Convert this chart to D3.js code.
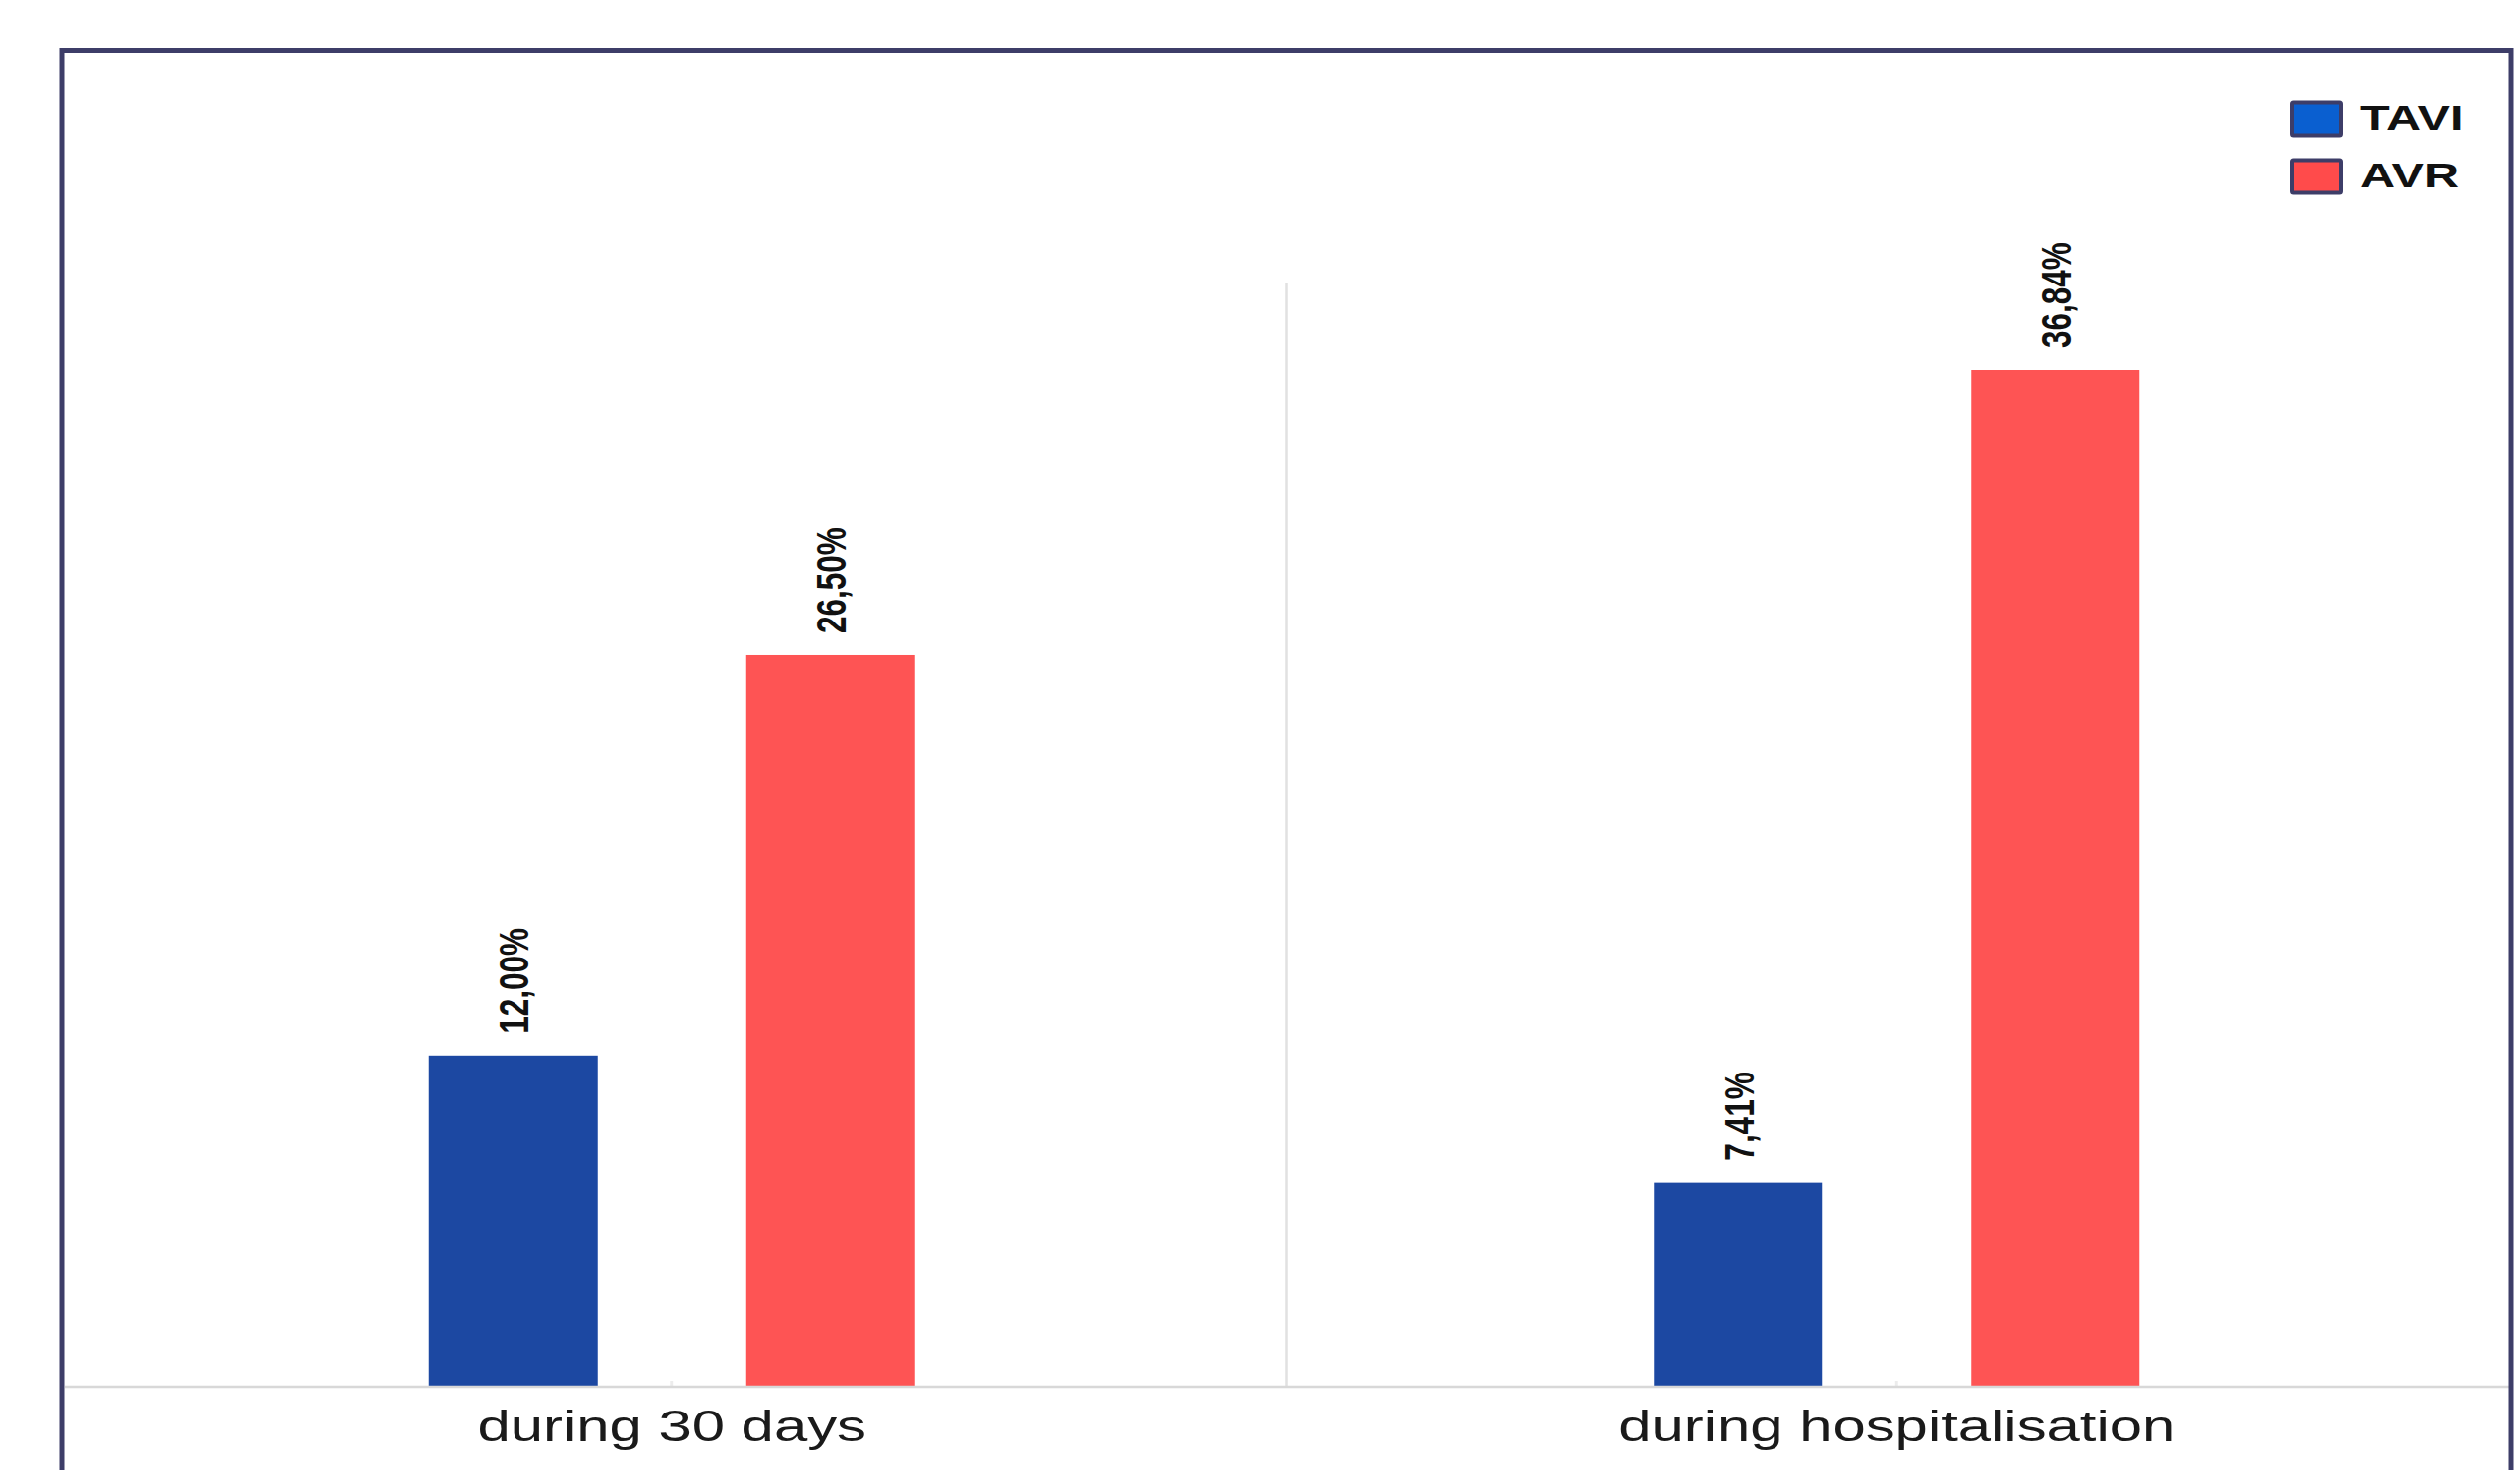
<!DOCTYPE html>
<html>
<head>
<meta charset="utf-8">
<script src="https://cdn.jsdelivr.net/npm/d3@7/dist/d3.min.js"></script>
<style>
  html, body { margin: 0; padding: 0; background: #ffffff; }
  svg { display: block; }
  text { font-family: "Liberation Sans", Arial, sans-serif; }
</style>
</head>
<body>
<svg id="chart" width="2542" height="1483"></svg>
<script>
// Mortality by procedure and period
const categories = ["during 30 days", "during hospitalisation"];
const series = ["TAVI", "AVR"];
const taviValues = [12.00, 7.41];
const avrValues = [26.50, 36.84];
const yMax = 40;

const barColors = { TAVI: "#1c48a2", AVR: "#fe5454" };
const legendColors = { TAVI: "#0a5fd0", AVR: "#ff4b4b" };
const frameColor = "#3d3d68";
const stretch = 1.36; // horizontal text stretch

const rows = categories.map((c, i) => ({
  category: c,
  values: [
    { key: "TAVI", value: taviValues[i] },
    { key: "AVR", value: avrValues[i] }
  ]
}));

const svg = d3.select("#chart");

const plot = { left: 66, right: 2531, bottom: 1399 };

const x0 = d3.scaleBand().domain(categories).range([60, plot.right]).padding(0);
const x1 = d3.scaleBand().domain(series).range([-245, 245]).paddingInner(150 / 320).paddingOuter(0);
const y = d3.scaleLinear().domain([0, yMax]).range([plot.bottom, 285]);

const fmt = v => d3.format(".2f")(v).replace(".", ",") + "%";

// group separator
svg.append("line")
  .attr("x1", x0(categories[1]) + 2).attr("x2", x0(categories[1]) + 2)
  .attr("y1", y(yMax)).attr("y2", plot.bottom)
  .attr("stroke", "#e1e1e1").attr("stroke-width", 2.5);

// small ticks at group centres
svg.selectAll(".tick-mark").data(categories).join("line")
  .attr("class", "tick-mark")
  .attr("x1", d => x0(d) + x0.bandwidth() / 2)
  .attr("x2", d => x0(d) + x0.bandwidth() / 2)
  .attr("y1", plot.bottom - 6).attr("y2", plot.bottom)
  .attr("stroke", "#ececec").attr("stroke-width", 3);

// bars
const groups = svg.selectAll(".group").data(rows).join("g")
  .attr("class", "group")
  .attr("transform", d => `translate(${x0(d.category) + x0.bandwidth() / 2},0)`);

groups.selectAll("rect").data(d => d.values).join("rect")
  .attr("x", d => x1(d.key))
  .attr("width", x1.bandwidth())
  .attr("y", d => y(d.value))
  .attr("height", d => plot.bottom - y(d.value))
  .attr("fill", d => barColors[d.key]);

// value labels, rotated
groups.selectAll("text.value").data(d => d.values).join("text")
  .attr("class", "value")
  .attr("transform", d => `translate(${x1(d.key) + x1.bandwidth() / 2},${y(d.value) - 22}) scale(${stretch},1) rotate(-90)`)
  .attr("dy", "0.36em")
  .attr("text-anchor", "start")
  .attr("font-size", 31.5)
  .attr("font-weight", "bold")
  .attr("fill", "#111")
  .text(d => fmt(d.value));

// baseline
svg.append("line")
  .attr("x1", plot.left).attr("x2", plot.right)
  .attr("y1", plot.bottom).attr("y2", plot.bottom)
  .attr("stroke", "#d8d8d8").attr("stroke-width", 2.5);

// category labels
svg.selectAll("text.cat").data(categories).join("text")
  .attr("class", "cat")
  .attr("transform", d => `translate(${x0(d) + x0.bandwidth() / 2},1454) scale(${stretch},1)`)
  .attr("text-anchor", "middle")
  .attr("font-size", 44)
  .attr("fill", "#1a1a1a")
  .text(d => d);

// legend
const legend = svg.selectAll(".legend").data(series).join("g")
  .attr("class", "legend")
  .attr("transform", (d, i) => `translate(2312,${103.5 + i * 58})`);

legend.append("rect")
  .attr("width", 49).attr("height", 33)
  .attr("fill", d => legendColors[d])
  .attr("stroke", frameColor).attr("stroke-width", 4)
  .attr("rx", 1.5);

legend.append("text")
  .attr("transform", `translate(69,27) scale(${stretch - 0.01},1)`)
  .attr("font-size", 36)
  .attr("font-weight", "bold")
  .attr("fill", "#111")
  .text(d => d);

// outer frame
svg.append("rect")
  .attr("x", 63).attr("y", 50.5)
  .attr("width", 2533 - 63).attr("height", 1600)
  .attr("fill", "none")
  .attr("stroke", frameColor).attr("stroke-width", 5);
</script>
</body>
</html>
